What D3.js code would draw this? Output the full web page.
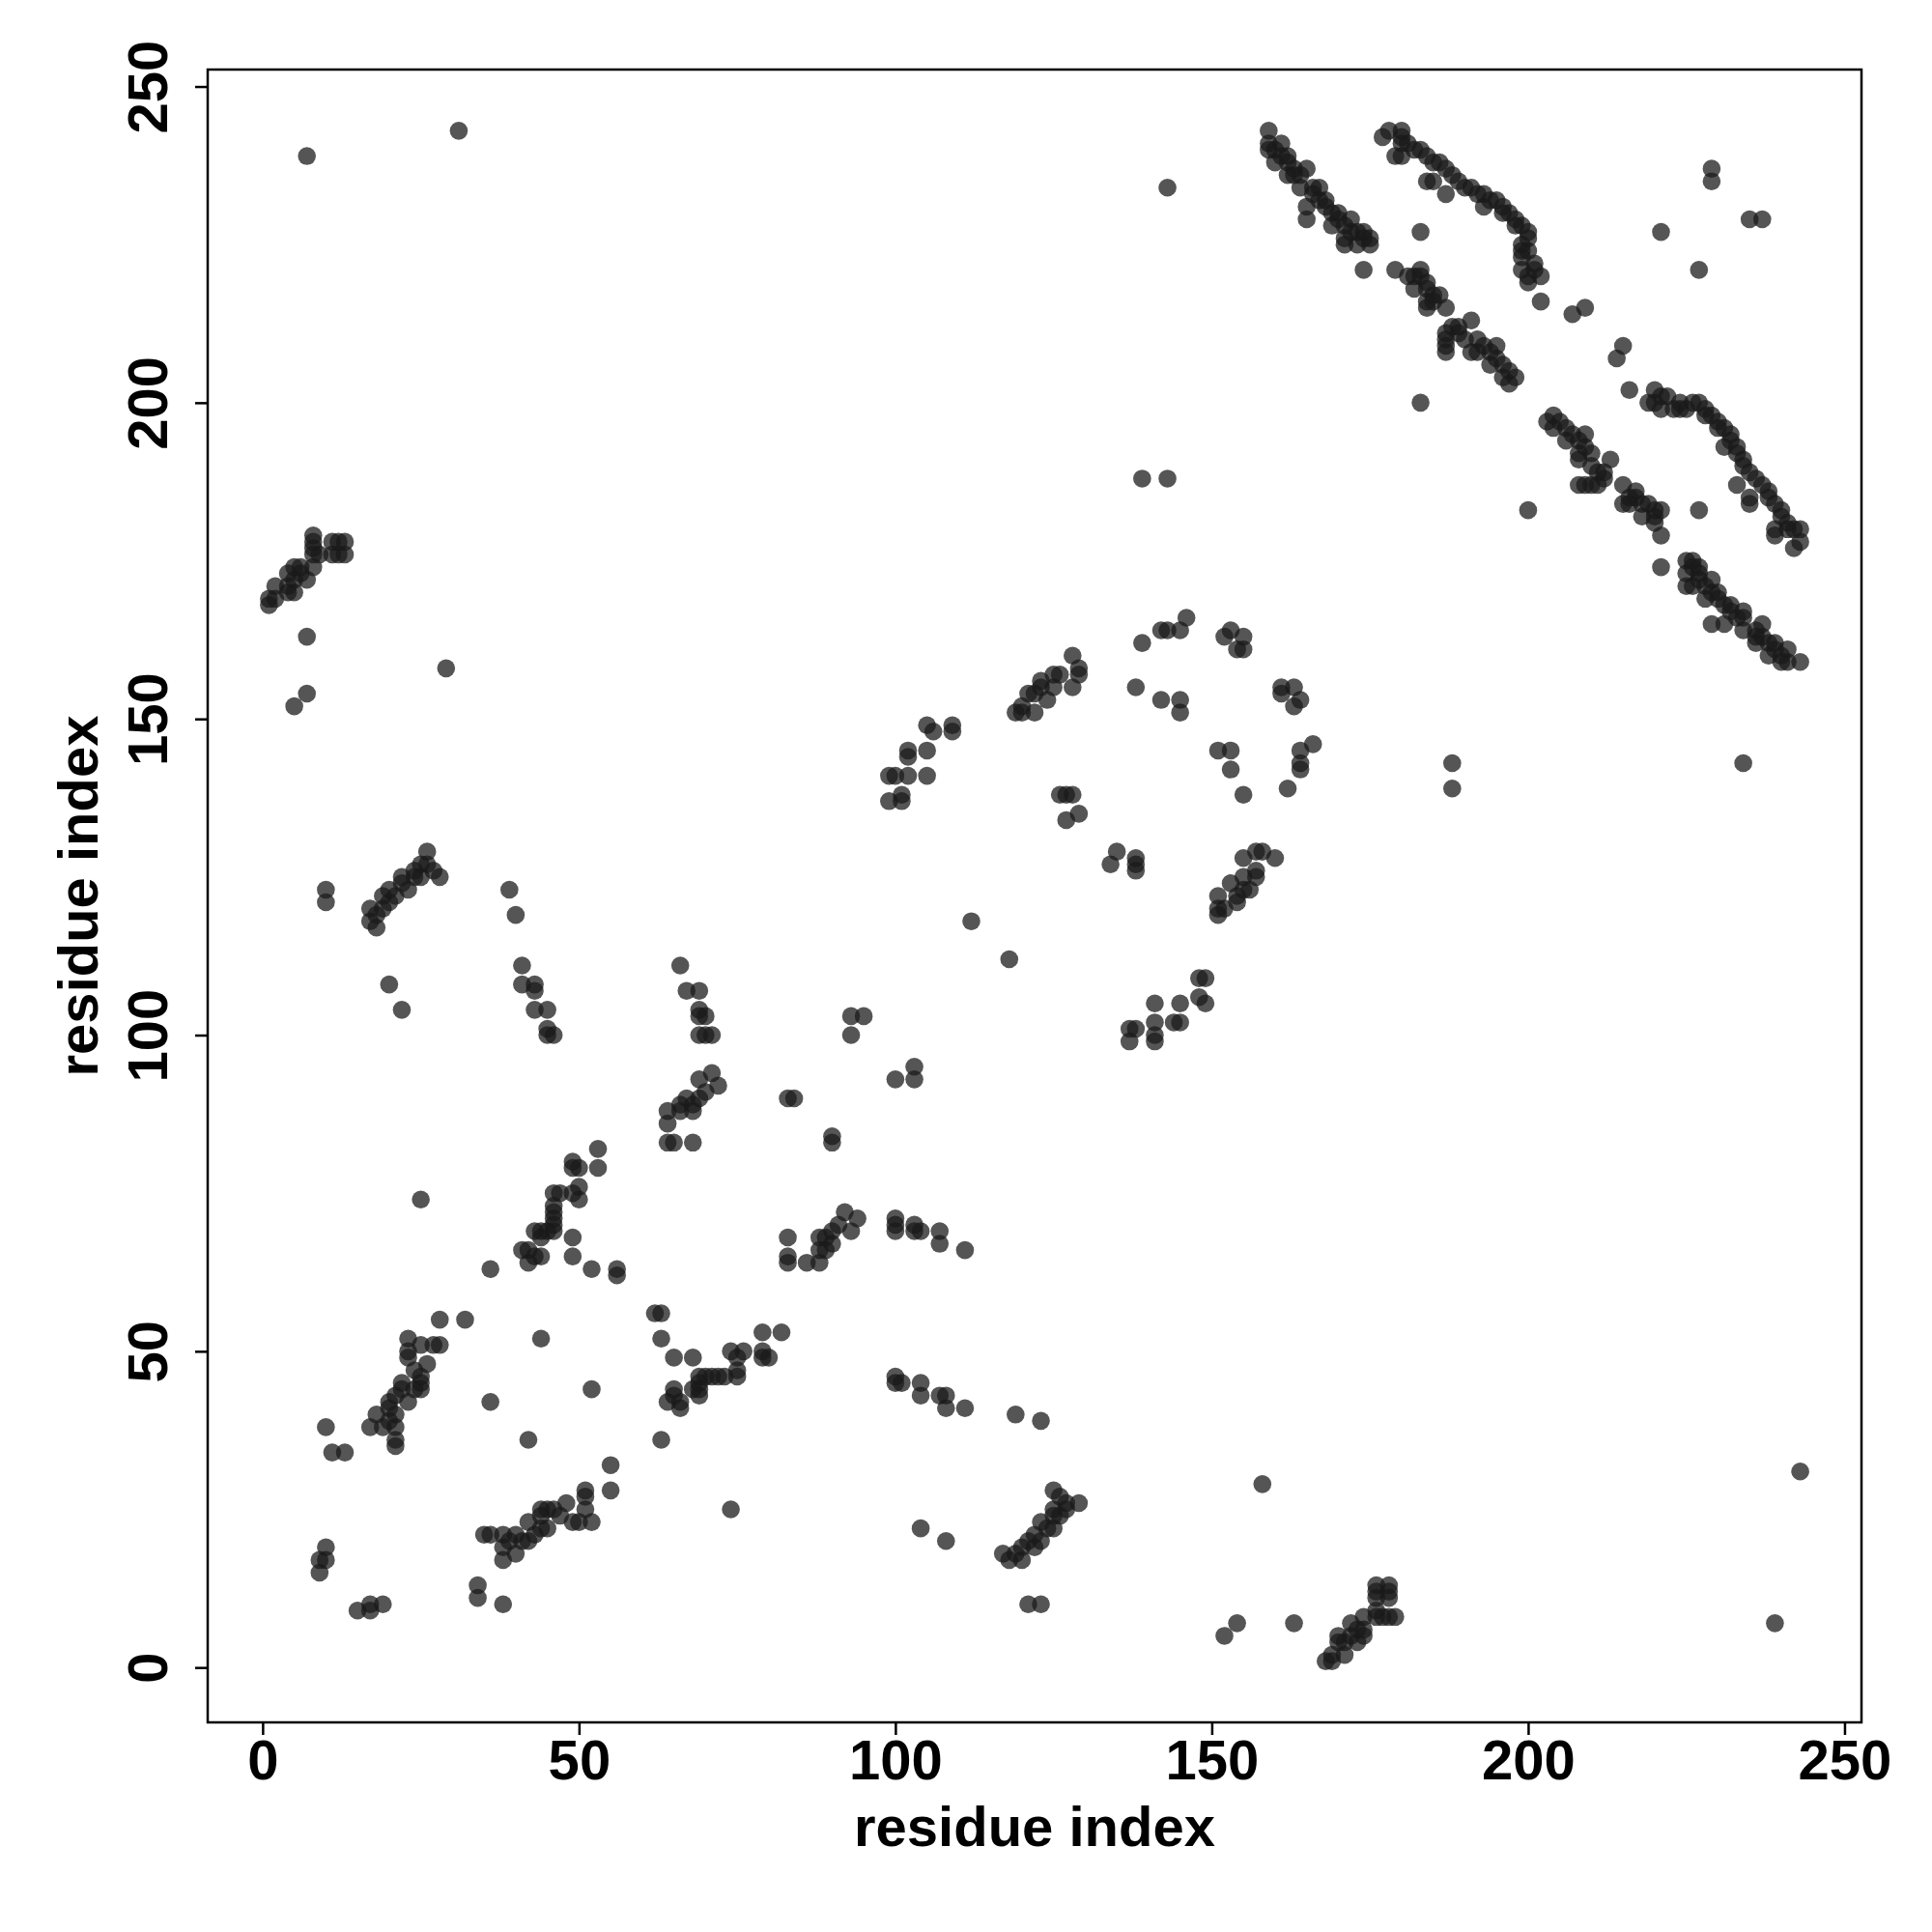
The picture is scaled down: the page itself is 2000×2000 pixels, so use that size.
<!DOCTYPE html>
<html><head><meta charset="utf-8">
<script src="https://cdn.jsdelivr.net/npm/d3@7"></script>
<style>body{margin:0;background:#fff;} svg{display:block;}</style>
</head><body><svg id="chart" width="2000" height="2000"></svg>
<script>
// Tick values and axis titles
const tickValues = [0, 50, 100, 150, 200, 250];
const xTitle = "residue index";
const yTitle = "residue index";

// Contact pairs [i, j] with i < j (upper triangle); the map is symmetric
const contactsTopLeft = [[1,168],[1,169],[2,169],[2,171],[4,170],[4,171],[5,170],[4,173],[5,172],[6,173],[5,174],[6,174],[7,172],[8,174],[8,176],[9,176],[8,177],[8,178],[8,179],[11,176],[12,176],[13,176],[11,178],[12,178],[13,178],
  [7,163],[7,154],[5,152],[29,158],[7,239],[31,243]];
const contactsB = [[10,121],[10,123],[17,118],[17,120],[18,117],[18,119],[19,120],[19,122],[20,121],[20,123],[21,122],[22,124],[22,125],[23,123],[24,125],[24,126],[25,125],[25,127],[26,127],[26,129],[27,126],[28,125]];
const contactsC = [[20,108],[22,104],[39,123],[40,119],[41,108],[41,111],[43,104],[43,107],[43,108],[45,104],[45,100],[46,100],[45,101]];
const contactsD = [[66,111],[67,107],[69,107],[69,104],[69,103],[70,103],[69,100],[70,100],[71,100]];
const contactsE = [[64,83],[65,83],[68,83],[64,86],[64,88],[66,88],[66,89],[67,90],[68,89],[68,88],[69,90],[70,91],[69,93],[72,92],[71,94],
  [83,90],[84,90],[93,100],[93,103],[95,103]];
const contactsF = [[99,137],[101,137],[101,138],[99,141],[100,141],[102,141],[105,141],[102,144],[102,145],[105,145],[105,149],[106,148],[109,148],[109,149],[112,118]];
const contactsG = [[119,151],[120,151],[120,152],[121,154],[122,151],[122,154],[123,155],[123,156],[124,153],[125,155],[125,157],[126,157],[128,155],[128,160],[129,157],[129,158],
  [126,138],[127,138],[128,138],[127,134],[129,135]];
const contactsH = [[139,162],[142,164],[143,164],[145,164],[146,166],[152,163],[153,164],[155,163],[155,161],[154,161],
  [138,155],[142,153],[145,153],[145,151],[139,188],[143,188],[143,234]];
const contactsBand1 = [[159,243],[159,241],[159,240],[161,241],[160,238],[162,238],[162,239],[162,236],[165,237],[164,234],[167,234],[168,232],[165,231],[165,229],[169,230],[169,228],[170,230],[172,229],[171,226],[171,225],[174,227],[175,226],[175,225],[173,225],
  [160,240],[161,239],[163,237],[163,236],[164,236],[166,234],[166,233],[167,232],[168,231],[170,229],[171,228],[172,227],[173,227],[174,226]];
const contactsBand2 = [[177,242],[178,243],[180,243],[180,242],[180,241],[179,239],[180,239],[183,240],[185,238],[186,238],[184,235],[185,235],[187,233],[188,236],[190,234],[192,233],[193,233],[193,231],[195,232],[196,230],[197,230],[198,228],[199,228],[199,224],[199,225],[199,223],[199,221],[200,220],[200,219],[200,227],[201,222],[202,220],
  [181,241],[182,240],[184,239],[187,237],[189,235],[191,234],[194,232],[196,231],[198,229],[200,226],[200,224],[201,221]];
const contactsBand3 = [[179,221],[181,220],[182,220],[183,220],[183,221],[184,219],[182,218],[184,218],[186,217],[187,215],[184,215],[184,216],[187,210],[187,208],[187,209],[187,211],[191,213],[189,211],[192,210],[191,208],[192,208],[195,209],[194,206],[196,206],[197,205],[197,203],[196,204],
  [185,217],[185,216],[188,212],[189,212],[190,210],[193,209],[194,208],[195,207],[198,204]];
const contactsTR = [[174,221],[183,227],[183,200],[221,227],[229,235],[229,237],[202,216],[207,214],[209,215]];
const contactsLL = [[9,15],[9,17],[10,17],[10,19],[10,38],[11,34],[13,34],
  [17,38],[18,40],[19,38],[20,39],[20,41],[21,35],[21,36],[21,38],[21,40],[20,42],[21,43],[22,44],[22,45],[23,42],[24,44],[25,44],[25,45],[24,47],[25,46],[26,48],[23,49],[23,50],[23,52],[25,51],[27,51],[28,51],
  [36,42],[44,52],[32,55],[28,55],[36,63],[25,74]];
const contactsMid = [[41,66],[42,64],[42,66],[43,65],[44,65],[43,69],[44,68],[44,69],[45,69],[46,69],[46,70],[46,71],[46,72],[46,73],[46,75],[47,75],[49,75],[50,74],[50,76],[49,79],[50,79],[49,80],[53,79],[53,82],[49,65],[49,68],[52,63],[56,62],[56,63]];

const upper = [].concat(contactsTopLeft, contactsB, contactsC, contactsD, contactsE, contactsF,
  contactsG, contactsH, contactsBand1, contactsBand2, contactsBand3, contactsTR, contactsLL, contactsMid);
const points = upper.concat(upper.map(([i, j]) => [j, i]));

const svg = d3.select('#chart');
const box = {left: 215, right: 1927, top: 72, bottom: 1783};
const x = d3.scaleLinear().domain([-8.68, 252.68]).range([box.left, box.right]);
const y = d3.scaleLinear().domain([-8.68, 252.68]).range([box.bottom, box.top]);
const font = "'Liberation Sans', Arial, sans-serif";

svg.append('g').selectAll('circle').data(points).join('circle')
  .attr('cx', d => x(d[0])).attr('cy', d => y(d[1])).attr('r', 9.3)
  .attr('fill', '#1a1a1a').attr('fill-opacity', 0.74);

svg.append('rect').attr('x', box.left).attr('y', box.top)
  .attr('width', box.right - box.left).attr('height', box.bottom - box.top)
  .attr('fill', 'none').attr('stroke', '#000').attr('stroke-width', 2.5);

const xAxis = svg.append('g').attr('transform', `translate(0,${box.bottom})`)
  .call(d3.axisBottom(x).tickValues(tickValues).tickSize(13).tickPadding(5).tickSizeOuter(0));
xAxis.select('.domain').remove();
xAxis.selectAll('line').attr('stroke', '#000').attr('stroke-width', 2.5);
xAxis.selectAll('text').attr('font-size', 58).attr('font-weight', 'bold')
  .attr('font-family', font).attr('fill', '#000');

const yAxis = svg.append('g').attr('transform', `translate(${box.left},0)`)
  .call(d3.axisLeft(y).tickValues(tickValues).tickSize(13).tickSizeOuter(0));
yAxis.select('.domain').remove();
yAxis.selectAll('line').attr('stroke', '#000').attr('stroke-width', 2.5);
yAxis.selectAll('text').attr('transform', 'rotate(-90)').attr('x', 0).attr('y', -42)
  .attr('dy', 0).attr('text-anchor', 'middle')
  .attr('font-size', 58).attr('font-weight', 'bold').attr('font-family', font).attr('fill', '#000');

svg.append('text').attr('x', (box.left + box.right) / 2).attr('y', 1911)
  .attr('text-anchor', 'middle').attr('font-size', 58).attr('font-weight', 'bold')
  .attr('font-family', font).text(xTitle);
svg.append('text').attr('transform', `translate(101,${(box.top + box.bottom) / 2}) rotate(-90)`)
  .attr('text-anchor', 'middle').attr('font-size', 58).attr('font-weight', 'bold')
  .attr('font-family', font).text(yTitle);
</script></body></html>
